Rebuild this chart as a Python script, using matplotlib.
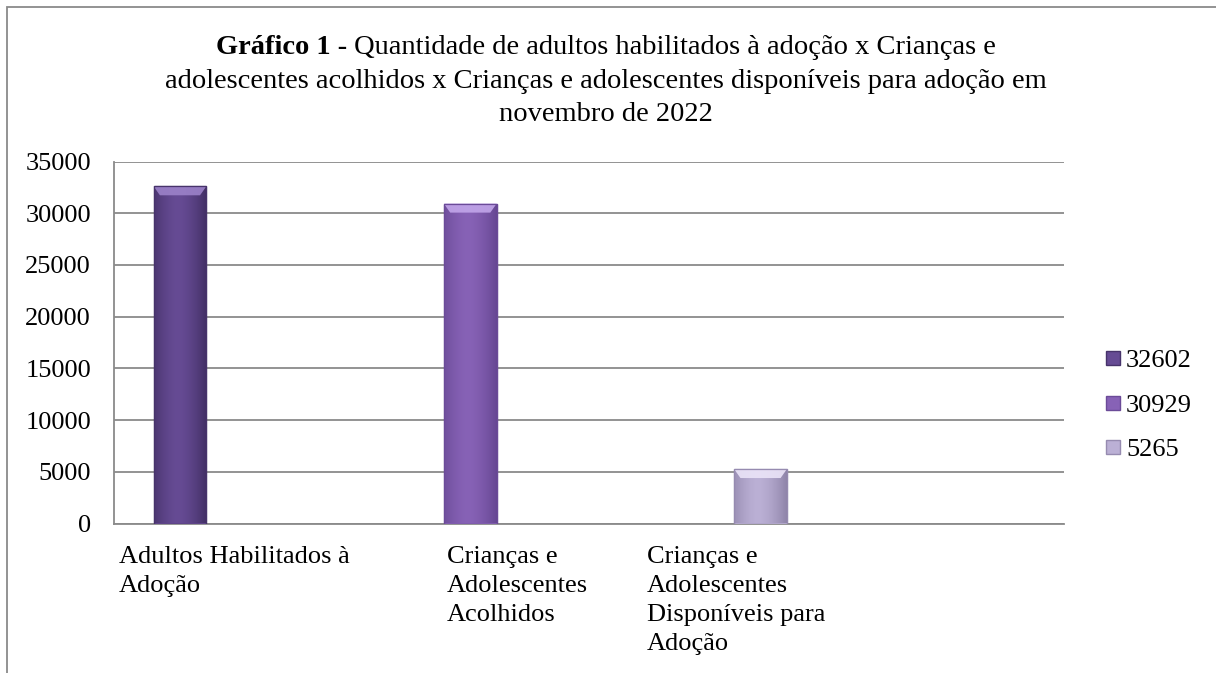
import matplotlib
matplotlib.use('Agg')
import numpy as np
import matplotlib.pyplot as plt
from matplotlib.patches import Rectangle, Polygon
from matplotlib.lines import Line2D
from matplotlib.colors import to_rgb

# dados
categorias = ['Adultos Habilitados à\nAdoção',
              'Crianças e\nAdolescentes\nAcolhidos',
              'Crianças e\nAdolescentes\nDisponíveis para\nAdoção',
              '']
series = ['32602', '30929', '5265']
adultos = [32602, 0, 0, 0]
acolhidos = [0, 30929, 0, 0]
disponiveis = [0, 0, 5265, 0]
valores = [adultos, acolhidos, disponiveis]
yticks = [0, 5000, 10000, 15000, 20000, 25000, 30000, 35000]

# estilo: (centro, borda, bisel)
cores = [('#664b94', '#47336b', '#9c82c9'),
         ('#8762b6', '#6b4b98', '#c2a6ea'),
         ('#bbb0d5', '#968bb0', '#ebe4f8')]

W, H = 1216, 673
plt.rcParams['font.family'] = ['Liberation Serif', 'DejaVu Serif']
fs = 19
fs_tit = 20.5

fig = plt.figure(figsize=(W/100, H/100), dpi=100)
fig.patch.set_facecolor('white')
ax = fig.add_axes([114/W, 1 - 523.5/H, 950/W, 362/H])

n = len(series)
w = 1/4.5
x = np.arange(len(categorias))

for i in range(n):
    c0, c1, c2 = cores[i]
    xs = x + (i - (n - 1)/2)*w
    for xi, v in zip(xs, valores[i]):
        if v <= 0:
            continue
        b = ax.bar(xi, v, w, color=c0, edgecolor=c1, linewidth=0.9, zorder=3)[0]
        # gradiente horizontal
        t = np.linspace(0, 1, 64)
        prof = 1 - (2*np.abs(t - 0.45))**1.6
        a0, a1 = np.array(to_rgb(c1)), np.array(to_rgb(c0))
        img = a0[None, :]*(1 - prof[:, None]) + a1[None, :]*prof[:, None]
        im = ax.imshow(img[None, :, :], extent=[xi - w/2, xi + w/2, 0, v],
                       aspect='auto', zorder=3.5, interpolation='bilinear')
        im.set_clip_path(b)
        # bisel do topo
        dx = w*0.12
        dy = 35000*9/362
        ax.add_patch(Polygon([[xi - w/2, v], [xi + w/2, v], [xi + w/2 - dx, v - dy],
                              [xi - w/2 + dx, v - dy]], closed=True, facecolor=c2,
                             edgecolor='none', zorder=4, alpha=0.9))
        ax.add_patch(Rectangle((xi - w/2, 0), w, v, fill=False, edgecolor=c1,
                               linewidth=0.9, zorder=5))

ax.set_xlim(-0.5, len(categorias) - 0.5)
ax.set_ylim(0, 35000)
ax.set_yticks(yticks)
ax.set_yticklabels([str(t) for t in yticks], fontsize=fs)
ax.set_xticks([])
ax.tick_params(axis='y', length=0, pad=16.5)
ax.yaxis.grid(True, color='#8a8a8a', linewidth=1.3, zorder=0)
ax.set_axisbelow(True)
for s in ['top', 'right']:
    ax.spines[s].set_visible(False)
for s in ['left', 'bottom']:
    ax.spines[s].set_color('#8a8a8a')
    ax.spines[s].set_linewidth(1.3)

# rótulos das categorias (alinhados à esquerda, como no Excel)
desloc = [-0.479, -0.098, -0.256, 0]
for xi, lab, d in zip(x, categorias, desloc):
    ax.text(xi + d, -0.062, lab, transform=ax.get_xaxis_transform(),
            ha='left', va='top', fontsize=fs, linespacing=1.42)

# legenda
handles = [Line2D([], [], marker='s', linestyle='none', markersize=10,
                  markerfacecolor=cores[i][0], markeredgecolor=cores[i][1])
           for i in range(n)]
fig.legend(handles, series, loc='center left',
           bbox_to_anchor=(1089/W, 1 - 405/H), frameon=False, fontsize=fs,
           handletextpad=0.1, labelspacing=0.8, borderpad=0, handlelength=0.8)

# título
r = fig.canvas.get_renderer()
bold = 'Gráfico 1 -'
resto = ' Quantidade de adultos habilitados à adoção x Crianças e'
t1 = fig.text(0, 0, bold, fontsize=fs_tit, fontweight='bold')
t2 = fig.text(0, 0, resto, fontsize=fs_tit)
w1 = t1.get_window_extent(r).width
w2 = t2.get_window_extent(r).width
x0 = 606 - (w1 + w2)/2
t1.set_position((x0/W, 1 - 54/H))
t2.set_position(((x0 + w1)/W, 1 - 54/H))
fig.text(606/W, 1 - 88/H,
         'adolescentes acolhidos x Crianças e adolescentes disponíveis para adoção em',
         fontsize=fs_tit, ha='center')
fig.text(606/W, 1 - 121/H, 'novembro de 2022', fontsize=fs_tit, ha='center')

# moldura
fig.add_artist(Rectangle((7/W, -0.1), 1.2, 1.1 - 7/H, transform=fig.transFigure,
                         fill=False, edgecolor='#8a8a8a', linewidth=1.3))

fig.savefig('out.png', dpi=100)
